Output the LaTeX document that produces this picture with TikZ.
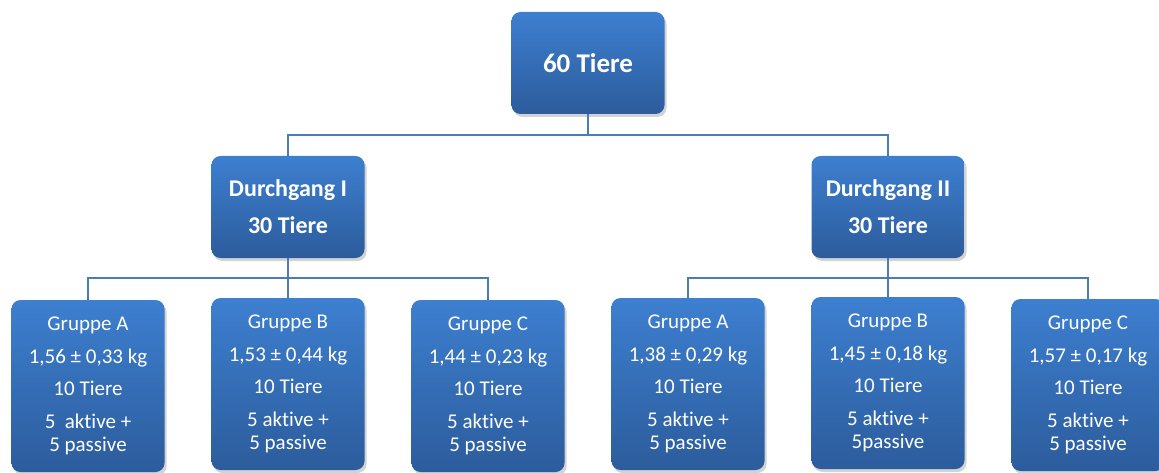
\documentclass[tikz,border=0pt]{standalone}
\usepackage{fontspec}
\setmainfont{Carlito}[Ligatures=NoCommon]
\usetikzlibrary{shadows}
\definecolor{boxtop}{HTML}{3D7FD0}
\definecolor{boxbot}{HTML}{2C5C9C}
\definecolor{linec}{HTML}{4A7CB8}
\tikzset{
  box/.style={draw=none, rounded corners=9pt, top color=boxtop, bottom color=boxbot,
    minimum width=153pt, inner sep=0pt, text=white, align=center,
    drop shadow={shadow xshift=2pt, shadow yshift=-3pt, opacity=0.35}},
  topbox/.style={box, minimum height=102pt, font=\fontsize{27}{30}\selectfont\bfseries},
  midbox/.style={box, minimum height=102pt, font=\fontsize{24}{28}\selectfont\bfseries},
  grpbox/.style={box, minimum height=172pt, font=\fontsize{21}{23}\selectfont},
  conn/.style={draw=linec, line width=1.8pt}
}
\begin{document}
\begin{tikzpicture}[x=1pt,y=-1pt]
\useasboundingbox (0,0) rectangle (1159,473);
\node[topbox] (top) at (588,63) {60 Tiere};
\node[midbox] (d1) at (288,207) {Durchgang I\\[9pt]30 Tiere};
\node[midbox] (d2) at (888,207) {Durchgang II\\[9pt]30 Tiere};
\node[grpbox] (a1) at (88,386) {Gruppe A\\[9.5pt]1,56 ± 0,33 kg\\[9.5pt]10 Tiere\\[10pt]5\ \ aktive +\\5 passive};
\node[grpbox] (b1) at (288,384) {Gruppe B\\[9.5pt]1,53 ± 0,44 kg\\[9.5pt]10 Tiere\\[10pt]5 aktive +\\5 passive};
\node[grpbox] (c1) at (488,386) {Gruppe C\\[9.5pt]1,44 ± 0,23 kg\\[9.5pt]10 Tiere\\[10pt]5 aktive +\\5 passive};
\node[grpbox] (a2) at (688,384) {Gruppe A\\[9.5pt]1,38 ± 0,29 kg\\[9.5pt]10 Tiere\\[10pt]5 aktive +\\5 passive};
\node[grpbox] (b2) at (888,383) {Gruppe B\\[9.5pt]1,45 ± 0,18 kg\\[9.5pt]10 Tiere\\[10pt]5 aktive +\\5passive};
\node[grpbox] (c2) at (1088,385) {Gruppe C\\[9.5pt]1,57 ± 0,17 kg\\[9.5pt]10 Tiere\\[10pt]5 aktive +\\5 passive};
\coordinate (j0) at (588,135);
\coordinate (j1) at (288,278);
\coordinate (j2) at (888,278);
\draw[conn] (top.south) -- (j0);
\draw[conn] (d1.north) |- (j0) -| (d2.north);
\draw[conn] (d1.south) -- (j1);
\draw[conn] (a1.north) |- (j1) -| (c1.north);
\draw[conn] (j1) -- (b1.north);
\draw[conn] (d2.south) -- (j2);
\draw[conn] (a2.north) |- (j2) -| (c2.north);
\draw[conn] (j2) -- (b2.north);
\end{tikzpicture}
\end{document}
